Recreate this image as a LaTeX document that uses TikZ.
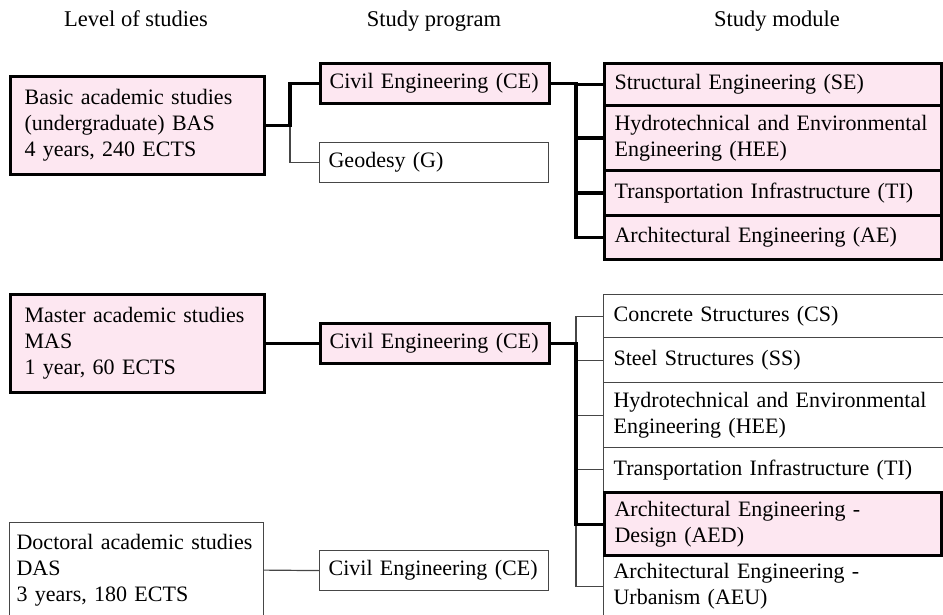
\documentclass[tikz,border=0pt]{standalone}
\usepackage{fontspec}
\setmainfont{Liberation Serif}
\usepackage{tikz}
\usetikzlibrary{positioning}

\definecolor{pinkfill}{RGB}{253,231,241}
\definecolor{linegray}{RGB}{70,70,70}

\tikzset{
    box/.style={rectangle, anchor=north west, inner ysep=0pt, align=left, font=\fontsize{22}{26}\selectfont},
    pinkbox/.style={box, draw=black, line width=3.2pt, fill=pinkfill},
    plainbox/.style={box, draw=linegray, line width=1.2pt, fill=white},
    lvl/.style={text width=226pt, inner xsep=14pt},
    prog/.style={text width=211pt, inner xsep=9pt, minimum height=40pt},
    modul/.style={text width=317pt, inner xsep=10pt},
    openmod/.style={text width=330pt, inner xsep=10pt},
    strong/.style={draw=black, line width=3.2pt},
    weak/.style={draw=linegray, line width=1.2pt},
    head/.style={anchor=base, font=\fontsize{22.5}{26}\selectfont}
}

\begin{document}
\begin{tikzpicture}[x=1pt, y=-1pt]
    \useasboundingbox (0,0) rectangle (943,615);

    % Headings
    \node[head] (hlevel) at (136,27) {Level of studies};
    \node[head] (hprog) at (434,27) {Study program};
    \node[head] (hmod) at (777,27) {Study module};

    % Level of studies
    \node[pinkbox, lvl, minimum height=98pt] (bas) at (9,75) {Basic academic studies\\(undergraduate) BAS\\4 years, 240 ECTS};
    \node[pinkbox, lvl, minimum height=98pt] (mas) at (9,293) {Master academic studies\\MAS\\1 year, 60 ECTS};
    \node[plainbox, text width=240pt, inner xsep=7pt, minimum height=95pt] (das) at (9,522) {Doctoral academic studies\\DAS\\3 years, 180 ECTS};

    % Study programs
    \node[pinkbox, prog] (ce1) at (319,62) {Civil Engineering (CE)};
    \node[plainbox, prog] (geo) at (319,142) {Geodesy (G)};
    \node[pinkbox, prog] (ce2) at (319,322) {Civil Engineering (CE)};
    \node[plainbox, prog] (ce3) at (319,550) {Civil Engineering (CE)};

    % Study modules (BAS)
    \node[pinkbox, modul, minimum height=42pt] (se) at (603,62) {Structural Engineering (SE)};
    \node[pinkbox, modul, minimum height=65pt] (hee) at (603,104) {Hydrotechnical and Environmental\\Engineering (HEE)};
    \node[pinkbox, modul, minimum height=45pt] (ti) at (603,169) {Transportation Infrastructure (TI)};
    \node[pinkbox, modul, minimum height=44pt] (ae) at (603,214) {Architectural Engineering (AE)};

    % Study modules (MAS)
    \node[plainbox, openmod, minimum height=43pt] (cs) at (603,294) {Concrete Structures (CS)};
    \node[plainbox, openmod, minimum height=45pt] (ss) at (603,337) {Steel Structures (SS)};
    \node[plainbox, openmod, minimum height=65pt] (hee2) at (603,382) {Hydrotechnical and Environmental\\Engineering (HEE)};
    \node[plainbox, openmod, minimum height=44pt] (ti2) at (603,447) {Transportation Infrastructure (TI)};
    \node[plainbox, openmod, minimum height=63pt] (aeu) at (603,554) {Architectural Engineering -\\Urbanism (AEU)};
    \node[pinkbox, modul, minimum height=63pt] (aed) at (603,491) {Architectural Engineering -\\Design (AED)};

    % Bus lines
    \coordinate (busA) at (290,0);
    \coordinate (busB) at (576,0);

    % Level -> program
    \draw[weak] (bas.east -| busA) |- (geo.west);
    \draw[strong] (bas.east) -- (bas.east -| busA) |- (ce1.west);
    \draw[strong] (mas.east) -- (ce2.west);
    \draw[weak] (das.east) -- (ce3.west);

    % Program -> module
    \draw[strong] (ce1.east) -| (ae.west -| busB) -- (ae.west);
    \foreach \m in {se,hee,ti}
        \draw[strong] (\m.west -| busB) -- (\m.west);

    \draw[weak] (cs.west) -| (aeu.west -| busB) -- (aeu.west);
    \foreach \m in {ss,hee2,ti2}
        \draw[weak] (\m.west -| busB) -- (\m.west);
    \draw[strong] (ce2.east) -| (aed.west -| busB) -- (aed.west);
\end{tikzpicture}
\end{document}
